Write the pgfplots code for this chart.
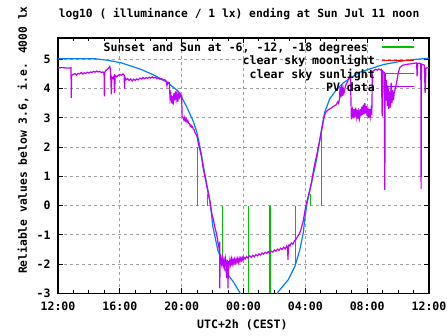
\documentclass[border=0pt]{standalone}
\usepackage{fontspec}
\setmainfont{DejaVu Sans Mono}
\usepackage{pgfplots}
\pgfplotsset{compat=1.18}
\definecolor{gpgreen}{RGB}{0,192,0}
\definecolor{gpred}{RGB}{255,0,0}
\definecolor{gpblue}{RGB}{0,128,255}
\definecolor{gppurple}{RGB}{192,0,255}
\definecolor{gpgrid}{RGB}{160,160,160}
\newcommand\gp{\fontsize{11.55}{13.3}\selectfont\bfseries}
\newcommand\gpt{\fontsize{11.3}{13.3}\selectfont\bfseries}
\begin{document}
\begin{tikzpicture}
\path[use as bounding box] (0,0) rectangle (447pt,335pt);
\begin{axis}[
  at={(58pt,41.7pt)}, anchor=south west,
  scale only axis, width=371pt, height=255.3pt,
  xmin=0, xmax=24, ymin=-3, ymax=5.73,
  xtick={0,4,8,12,16,20,24},
  xticklabels={12:00,16:00,20:00,00:00,04:00,08:00,12:00},
  minor xtick={1,2,3,5,6,7,9,10,11,13,14,15,17,18,19,21,22,23},
  ytick={-3,-2,-1,0,1,2,3,4,5},
  yticklabels={-3,-2,-1,0,1,2,3,4,5},
  tick label style={font=\gp},
  xticklabel style={yshift=-5pt},
  yticklabel style={xshift=-4pt},
  major tick length=5pt, minor tick length=3pt,
  tick style={black, line width=1pt},
  axis line style={line width=1.3pt},
  xmajorgrids=true, ymajorgrids=true, xminorgrids=false, yminorgrids=false,
  major grid style={gpgrid, line width=1pt, dash pattern=on 3pt off 3pt},
  title={log10 ( illuminance / 1 lx) ending at Sun Jul 11 noon},
  title style={font=\gpt, at={(axis description cs:0.488,1.0576)}, anchor=base, yshift=0pt},
  xlabel={UTC+2h (CEST)},
  xlabel style={font=\gp, at={(axis description cs:0.497,-0.138)}, anchor=base},
  ylabel={Reliable values below 3.6, i.e. 4000 lx},
  ylabel style={font=\gpt, at={(axis description cs:-0.0836,0.600)}, anchor=base},
  legend style={draw=none, fill=none, font=\gp, at={(0.9623,0.9824)}, anchor=north east,
    inner sep=0pt, outer sep=0pt, row sep=4.3pt, column sep=7pt,
    nodes={inner sep=0pt, text height=9pt, text depth=0pt}},
  legend cell align=right, legend plot pos=right,
  legend image code/.code={\draw[#1] (0pt,0pt) -- (32pt,0pt);},
]
\addplot[gpgreen, line width=1.2pt, unbounded coords=jump] coordinates {
(9.00,0) (9.00,2.0) (9.00,nan)
(9.68,0) (9.68,0.4) (9.68,nan)
(10.63,0) (10.63,-2.0) (10.63,nan)
(12.30,0) (12.30,-3) (12.30,nan)
(13.72,0) (13.72,-3) (13.72,nan)
(15.34,0) (15.34,-2.0) (15.34,nan)
(16.31,0) (16.31,0.4) (16.31,nan)
(17.02,0) (17.02,2.6)
};
\addlegendentry{Sunset and Sun at -6, -12, -18 degrees\phantom{x}}
\addlegendimage{gpred, line width=1.2pt}
\addlegendentry{clear sky moonlight}
\addplot[gpblue, line width=1.2pt] coordinates {
(0,5.02) (2.4,5.02) (3.2,4.97) (4.1,4.88) (5.4,4.65) (6.3,4.44) (7.1,4.2) (7.8,3.9)
(8.3,3.4) (8.75,2.88) (9.0,2.48) (9.22,1.91) (9.39,1.39) (9.61,0.77) (9.78,0.31)
(9.93,-0.3) (10.02,-0.73) (10.34,-1.52) (10.69,-2.05) (10.92,-2.31) (11.33,-2.6)
(11.76,-2.97) (11.9,-3.1) (14.1,-3.1) (14.24,-2.95) (14.89,-2.54) (15.32,-2.09)
(15.64,-1.52) (15.86,-0.95) (15.97,-0.45) (16.1,0.05) (16.4,0.77) (16.72,1.56)
(16.94,2.25) (17.04,2.6) (17.26,3.2) (17.58,3.65) (18.01,3.96) (18.44,4.19)
(19.09,4.42) (19.52,4.56) (21.03,4.82) (22.54,4.97) (24,5.04)
};
\addlegendentry{clear sky sunlight}
\addplot[gppurple, line width=1.2pt] coordinates {
(0.00,4.71) (0.30,4.72) (0.60,4.70) (0.84,4.71) (0.86,3.68) (0.88,4.45) (1.00,4.48)
(1.10,4.52) (1.20,4.46) (1.30,4.52) (1.40,4.50) (1.50,4.55) (1.60,4.50) (1.70,4.54)
(1.80,4.52) (1.90,4.56) (2.00,4.53) (2.10,4.57) (2.20,4.55) (2.30,4.59) (2.40,4.56)
(2.50,4.60) (2.60,4.57) (2.70,4.59) (2.80,4.55) (2.90,4.57) (2.98,4.53) (3.00,3.73)
(3.02,4.55) (3.10,4.62) (3.20,4.66) (3.30,4.72) (3.35,4.76) (3.40,4.62) (3.45,3.80)
(3.48,4.40) (3.55,4.35) (3.62,4.42) (3.66,3.85) (3.70,4.45) (3.80,4.40) (3.90,4.46)
(4.00,4.48) (4.10,4.45) (4.20,4.50) (4.28,4.46) (4.30,4.00) (4.33,4.38) (4.40,4.30)
(4.50,4.34) (4.60,4.28) (4.70,4.33) (4.80,4.26) (4.90,4.32) (5.00,4.28) (5.10,4.33)
(5.20,4.30) (5.30,4.36) (5.40,4.33) (5.50,4.38) (5.60,4.34) (5.70,4.38) (5.80,4.35)
(5.90,4.39) (6.00,4.36) (6.10,4.40) (6.20,4.36) (6.30,4.39) (6.40,4.34) (6.50,4.37)
(6.60,4.32) (6.70,4.34) (6.80,4.29) (6.90,4.31) (7.00,4.25) (7.05,4.10) (7.10,4.22)
(7.20,4.20) (7.25,3.65) (7.30,3.80) (7.35,3.50) (7.40,3.75) (7.45,3.45) (7.50,3.85)
(7.55,3.60) (7.60,3.90) (7.65,3.65) (7.70,3.85) (7.75,3.55) (7.80,3.80) (7.85,3.70)
(7.90,3.82) (7.95,3.72) (8.00,3.75) (8.03,3.05) (8.10,3.00) (8.15,2.92) (8.20,3.02)
(8.25,2.90) (8.30,2.95) (8.35,2.85) (8.40,2.90) (8.45,2.82) (8.50,2.80) (8.55,2.72)
(8.60,2.75) (8.65,2.68) (8.70,2.70) (8.75,2.62) (8.80,2.60) (8.86,2.50) (8.95,2.42)
(9.00,2.36) (9.07,2.14) (9.18,1.91) (9.30,1.62) (9.37,1.34) (9.44,1.15) (9.50,1.00)
(9.57,0.82) (9.65,0.60) (9.72,0.42) (9.78,0.25) (9.83,0.15) (9.90,-0.10) (9.98,-0.35)
(10.04,-0.45) (10.15,-0.75) (10.25,-0.95) (10.33,-1.20) (10.40,-1.40) (10.45,-1.55)
(10.46,-1.23) (10.47,-2.83) (10.48,-1.65) (10.53,-1.75) (10.58,-1.98) (10.63,-1.80)
(10.68,-2.05) (10.73,-1.85) (10.78,-2.08) (10.83,-1.82) (10.88,-2.05) (10.91,-2.48)
(10.95,-1.85) (10.98,-2.05) (11.00,-2.83) (11.02,-1.90) (11.07,-2.05) (11.12,-1.85)
(11.17,-2.02) (11.22,-1.83) (11.27,-2.00) (11.32,-1.85) (11.37,-1.98) (11.42,-1.84)
(11.47,-1.96) (11.52,-1.83) (11.57,-1.95) (11.62,-1.82) (11.67,-1.93) (11.72,-1.80)
(11.77,-1.92) (11.82,-1.80) (11.87,-1.88) (11.92,-1.78) (11.97,-1.86) (12.02,-1.76)
(12.10,-1.83) (12.20,-1.74) (12.30,-1.80) (12.40,-1.72) (12.50,-1.77) (12.60,-1.70)
(12.70,-1.75) (12.80,-1.68) (12.90,-1.72) (13.00,-1.65) (13.10,-1.69) (13.20,-1.62)
(13.30,-1.66) (13.40,-1.60) (13.50,-1.63) (13.60,-1.58) (13.70,-1.61) (13.80,-1.56)
(13.90,-1.59) (14.00,-1.52) (14.10,-1.56) (14.20,-1.49) (14.30,-1.53) (14.40,-1.46)
(14.50,-1.50) (14.60,-1.42) (14.70,-1.48) (14.80,-1.38) (14.85,-1.45) (14.88,-1.86)
(14.90,-1.40) (14.95,-1.34) (15.00,-1.38) (15.10,-1.28) (15.20,-1.32) (15.30,-1.20)
(15.40,-1.15) (15.50,-1.05) (15.60,-0.98) (15.70,-0.85) (15.80,-0.65) (15.86,-0.55)
(15.95,-0.25) (16.02,-0.05) (16.07,0.08) (16.18,0.30) (16.29,0.54) (16.40,0.80)
(16.50,1.11) (16.60,1.40) (16.72,1.68) (16.83,1.98) (16.94,2.25) (17.05,2.55)
(17.15,2.85) (17.25,3.10) (17.37,3.22) (17.50,3.28) (17.69,3.34) (17.85,3.40)
(18.00,3.45) (18.10,3.55) (18.15,3.50) (18.20,3.62) (18.25,4.05) (18.30,3.70)
(18.35,4.15) (18.40,3.75) (18.45,4.00) (18.50,3.85) (18.60,4.10) (18.70,4.20)
(18.77,4.30) (18.87,4.42) (18.92,4.35) (18.98,2.95) (19.00,3.05) (19.05,3.25)
(19.10,2.98) (19.15,3.30) (19.20,3.02) (19.25,3.35) (19.30,3.05) (19.35,3.28)
(19.40,2.97) (19.45,3.20) (19.50,3.00) (19.55,3.30) (19.60,3.05) (19.65,3.38)
(19.70,3.10) (19.75,3.45) (19.80,3.12) (19.85,3.50) (19.90,3.15) (19.95,3.40)
(20.00,3.05) (20.05,3.35) (20.10,3.00) (20.15,3.30) (20.20,3.05) (20.25,3.28)
(20.30,3.10) (20.34,4.59) (20.45,4.62) (20.55,4.66) (20.65,4.63) (20.75,4.67)
(20.85,4.64) (20.92,4.66) (20.97,3.05) (21.00,4.60) (21.10,4.55) (21.14,0.54)
(21.17,4.50) (21.20,3.60) (21.25,4.30) (21.30,3.40) (21.35,4.10) (21.40,3.30)
(21.45,3.90) (21.50,3.35) (21.55,4.20) (21.60,3.50) (21.65,3.95) (21.70,3.60)
(21.75,3.85) (21.80,3.96) (21.90,4.20) (22.00,4.50) (22.10,4.71) (22.30,4.80)
(22.50,4.82) (22.70,4.84) (22.90,4.85) (23.10,4.87) (23.20,4.88) (23.23,4.42)
(23.26,4.86) (23.40,4.87) (23.47,4.85) (23.49,0.56) (23.51,4.84) (23.60,4.82)
(23.70,4.80) (23.75,3.85) (23.80,4.70) (24.00,4.72)
};
\addlegendentry{PV data}
\end{axis}
\end{tikzpicture}
\end{document}
